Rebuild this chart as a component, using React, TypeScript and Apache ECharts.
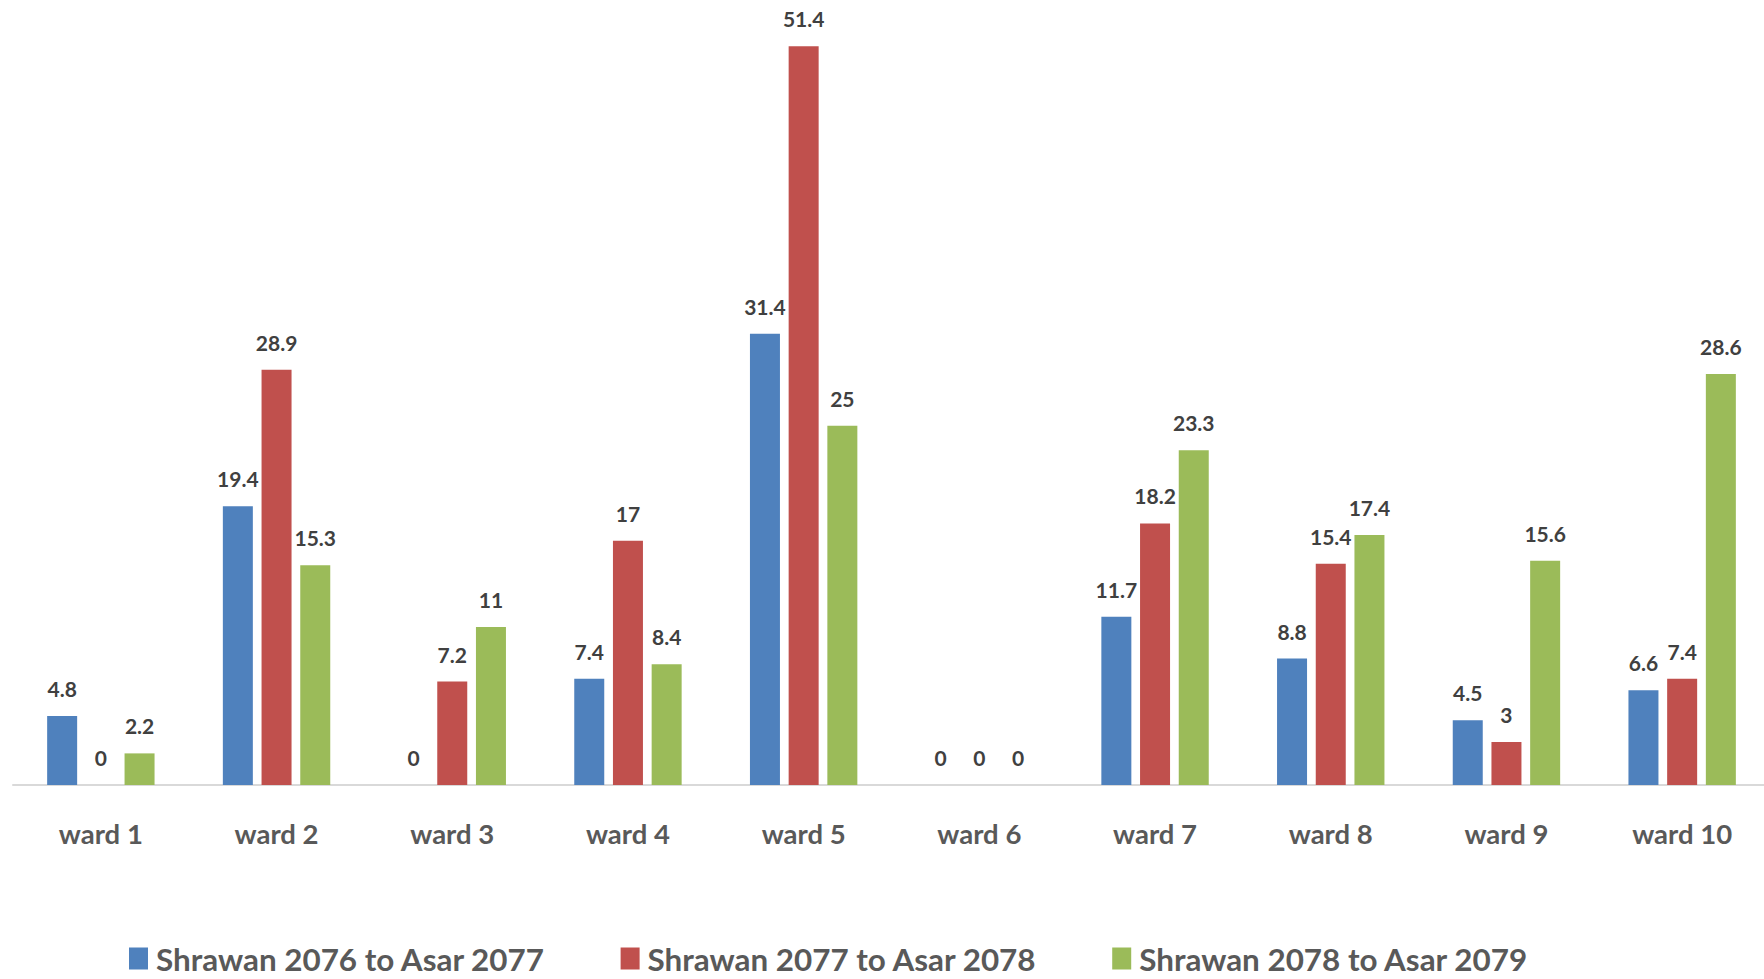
import React, { useEffect, useRef } from "react";
import * as echarts from "echarts";

const categories = ["ward 1", "ward 2", "ward 3", "ward 4", "ward 5", "ward 6", "ward 7", "ward 8", "ward 9", "ward 10"];
const seriesNames = ["Shrawan 2076 to Asar 2077", "Shrawan 2077 to Asar 2078", "Shrawan 2078 to Asar 2079"];
const values2076 = [4.8, 19.4, 0, 7.4, 31.4, 0, 11.7, 8.8, 4.5, 6.6];
const values2077 = [0, 28.9, 7.2, 17, 51.4, 0, 18.2, 15.4, 3, 7.4];
const values2078 = [2.2, 15.3, 11, 8.4, 25, 0, 23.3, 17.4, 15.6, 28.6];
const colors = ["#4F81BD", "#C0504D", "#9BBB59"];

const FONT = "Lato, 'DejaVu Sans Condensed', sans-serif";

export default function App() {
  const ref = useRef<HTMLDivElement>(null);
  useEffect(() => {
    document.documentElement.style.overflow = "hidden";
    const chart = echarts.init(ref.current!, undefined, { renderer: "svg" });
    const allValues = [values2076, values2077, values2078];
    chart.setOption({
      animation: false,
      color: colors,
      grid: { left: 13, right: 0, top: 9, bottom: 194, containLabel: false },
      legend: {
        left: 124,
        top: 938,
        width: 1600,
        itemWidth: 19,
        itemHeight: 22,
        itemGap: 75,
        icon: "rect",
        textStyle: { fontFamily: FONT, fontWeight: "bold", fontSize: 31.4, color: "#595959", padding: [0, 0, 0, 3] },
        data: seriesNames,
      },
      xAxis: {
        type: "category",
        data: categories,
        axisLine: { show: true, lineStyle: { color: "#D9D9D9", width: 2 } },
        axisTick: { show: false },
        axisLabel: { margin: 34, fontFamily: FONT, fontWeight: "bold", fontSize: 27.5, color: "#595959" },
      },
      yAxis: {
        type: "value",
        min: 0,
        max: 54,
        show: false,
        splitLine: { show: false },
      },
      series: seriesNames.map((name, i) => ({
        name,
        type: "bar",
        data: allValues[i],
        barWidth: 30,
        barGap: "29%",
        itemStyle: { color: colors[i] },
        label: {
          show: true,
          position: "top",
          distance: 17,
          fontFamily: FONT,
          fontWeight: "bold",
          fontSize: 21,
          color: "#404040",
        },
      })),
    });
    return () => chart.dispose();
  }, []);
  return <div ref={ref} style={{ position: "fixed", left: 0, top: 0, width: 1770, height: 979, background: "#fff" }} />;
}
